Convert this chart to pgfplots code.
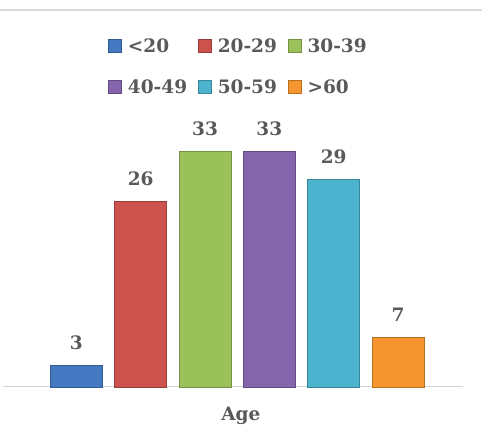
\documentclass[border=0pt]{standalone}
\usepackage{pgfplots}
\pgfplotsset{compat=1.18}
\usepackage{fontspec}
\setmainfont{DejaVu Serif}
\definecolor{cBlue}{HTML}{4479C2}
\definecolor{cRed}{HTML}{CC524E}
\definecolor{cGreen}{HTML}{9BC25A}
\definecolor{cPurple}{HTML}{8566AC}
\definecolor{cAqua}{HTML}{4CB3CF}
\definecolor{cOrange}{HTML}{F5952F}
\definecolor{txt}{HTML}{595959}
\begin{document}
\begin{tikzpicture}
\path[use as bounding box] (0,0) rectangle (482pt,444pt);
\draw[black!15, line width=1.5pt] (0,434pt) -- (482pt,434pt);
\begin{axis}[
  at={(3pt,57pt)}, anchor=south west,
  scale only axis, width=460pt, height=250.3pt,
  xmin=-1.14, xmax=6.01, ymin=0, ymax=35,
  axis x line=bottom, axis y line=none,
  axis line style={-, black!18, line width=1pt},
  xtick=\empty, ytick=\empty,
  clip=false,
  /pgf/number format/assume math mode=true,
  font=\fontsize{18.5}{22}\selectfont\bfseries\color{txt},
  xlabel={Age},
  xlabel style={at={(axis description cs:0.517,0)}, anchor=center, yshift=-29pt},
  legend columns=3,
  legend style={at={(axis description cs:0.516,1.41)}, anchor=north, draw=none, fill=none,
    row sep=22pt, text width=63pt, align=left,
    /tikz/every odd column/.append style={column sep=4pt},
    /tikz/every even column/.append style={column sep=5pt}},
  legend image code/.code={\fill[#1] (-5pt,-6.5pt) rectangle (8pt,6.5pt);},
  every axis plot/.append style={ybar, bar width=52pt, bar shift=0pt,
    nodes near coords, line width=0.8pt,
    every node near coord/.append style={font=\fontsize{18.5}{22}\selectfont\bfseries, text=txt, yshift=12pt}},
]
\addplot[fill=cBlue, draw=cBlue!75!black] coordinates {(0,3)};
\addlegendentry{<20}
\addplot[fill=cRed, draw=cRed!75!black] coordinates {(1,26)};
\addlegendentry{20-29}
\addplot[fill=cGreen, draw=cGreen!75!black] coordinates {(2,33)};
\addlegendentry{30-39}
\addplot[fill=cPurple, draw=cPurple!75!black] coordinates {(3,33)};
\addlegendentry{40-49}
\addplot[fill=cAqua, draw=cAqua!75!black] coordinates {(4,29)};
\addlegendentry{50-59}
\addplot[fill=cOrange, draw=cOrange!75!black] coordinates {(5,7)};
\addlegendentry{>60}
\end{axis}
\end{tikzpicture}
\end{document}
